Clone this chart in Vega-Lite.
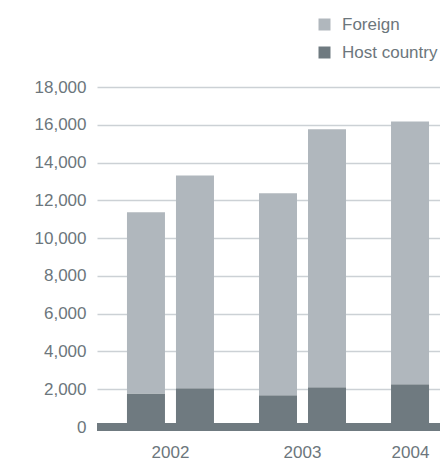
{
  "$schema": "https://vega.github.io/schema/vega-lite/v6.json",
  "autosize": "none",
  "padding": {"left": 97, "top": 87, "right": 0, "bottom": 33},
  "width": 343,
  "height": 340,
  "background": "white",
  "config": {
    "view": {"stroke": null},
    "font": "Liberation Sans",
    "axis": {"labelFont": "Liberation Sans", "labelColor": "#6c767c", "labelFontSize": 17},
    "axisY": {
      "values": [0, 2000, 4000, 6000, 8000, 10000, 12000, 14000, 16000, 18000],
      "format": ",.0f",
      "labelOverlap": false,
      "domain": false,
      "ticks": false,
      "labelPadding": 11,
      "gridColor": "#ccd1d5",
      "gridWidth": 1.3,
      "title": null
    },
    "legend": {"labelFont": "Liberation Sans", "labelColor": "#6c767c", "labelFontSize": 17}
  },
  "data": {
    "values": [
      {"year": "2002", "half": "H1", "type": "Host country", "value": 1780},
      {"year": "2002", "half": "H1", "type": "Foreign", "value": 9590},
      {"year": "2002", "half": "H2", "type": "Host country", "value": 2050},
      {"year": "2002", "half": "H2", "type": "Foreign", "value": 11270},
      {"year": "2003", "half": "H1", "type": "Host country", "value": 1680},
      {"year": "2003", "half": "H1", "type": "Foreign", "value": 10690},
      {"year": "2003", "half": "H2", "type": "Host country", "value": 2100},
      {"year": "2003", "half": "H2", "type": "Foreign", "value": 13660},
      {"year": "2004", "half": "H1", "type": "Host country", "value": 2260},
      {"year": "2004", "half": "H1", "type": "Foreign", "value": 13920}
    ]
  },
  "layer": [
    {
      "mark": {"type": "bar"},
      "encoding": {
        "x": {
          "field": "year",
          "type": "nominal",
          "scale": {"range": [0, 411], "paddingInner": 0.341, "paddingOuter": 0.227},
          "axis": {
            "title": null,
            "labelAngle": 0,
            "domain": false,
            "ticks": false,
            "labelPadding": 17,
            "labelOffset": {"condition": {"test": "datum.value === '2004'", "value": -24}, "value": 0}
          }
        },
        "xOffset": {
          "field": "half",
          "type": "nominal",
          "scale": {"domain": ["H1", "H2"], "paddingInner": 0.2245, "paddingOuter": 0}
        },
        "y": {
          "field": "value",
          "type": "quantitative",
          "stack": "zero",
          "title": null,
          "scale": {"domain": [0, 18000], "nice": false},
          "axis": {
            "title": null,
            "values": [0, 2000, 4000, 6000, 8000, 10000, 12000, 14000, 16000, 18000],
            "format": ",.0f",
            "labelOverlap": false
          }
        },
        "color": {
          "field": "type",
          "type": "nominal",
          "scale": {"domain": ["Foreign", "Host country"], "range": ["#b0b7bd", "#6f7a80"]},
          "legend": {
            "title": null,
            "orient": "none",
            "legendX": 219,
            "legendY": -71,
            "symbolType": "square",
            "symbolSize": 144,
            "symbolStrokeWidth": 0,
            "labelOffset": 9,
            "rowPadding": 10
          }
        },
        "order": {"field": "type", "sort": "descending"}
      }
    },
    {
      "mark": {"type": "rule", "color": "#6f7a80", "strokeWidth": 8},
      "encoding": {
        "y": {
          "datum": 0,
          "type": "quantitative",
          "axis": {
            "title": null,
            "values": [0, 2000, 4000, 6000, 8000, 10000, 12000, 14000, 16000, 18000],
            "format": ",.0f",
            "labelOverlap": false
          }
        }
      }
    }
  ]
}
